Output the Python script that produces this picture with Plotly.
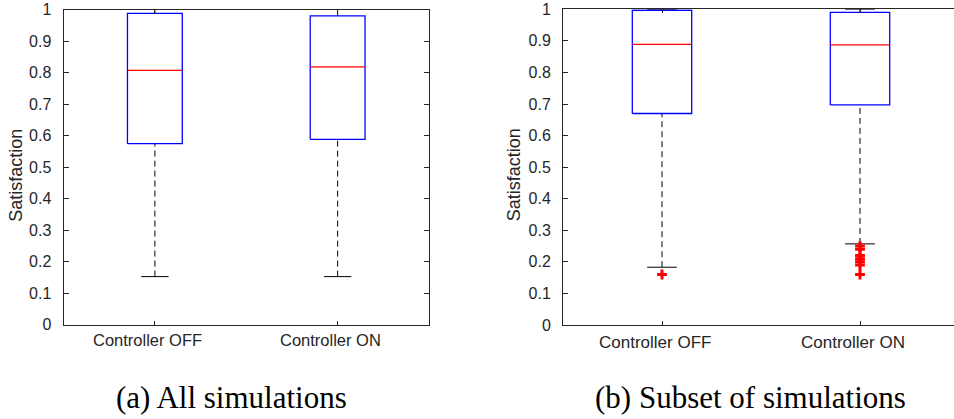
import plotly.graph_objects as go

# ---- data -------------------------------------------------------------
categories = ["Controller OFF", "Controller ON"]
y_tick_values = [0, 0.1, 0.2, 0.3, 0.4, 0.5, 0.6, 0.7, 0.8, 0.9, 1]
y_tick_labels = ["0", "0.1", "0.2", "0.3", "0.4", "0.5", "0.6", "0.7", "0.8", "0.9", "1"]

# (a) all simulations: box statistics per category
all_lower = [0.152, 0.152]
all_q1 = [0.574, 0.588]
all_median = [0.807, 0.818]
all_q3 = [0.988, 0.980]
all_upper = [1.0, 1.0]
all_outliers = [[], []]

# (b) subset of simulations
sub_lower = [0.183, 0.257]
sub_q1 = [0.670, 0.697]
sub_median = [0.889, 0.887]
sub_q3 = [0.997, 0.990]
sub_upper = [1.0, 1.0]
sub_outliers = [[0.16], [0.25, 0.24, 0.22, 0.21, 0.20, 0.19, 0.16]]

captions = ["(a) All simulations", "(b) Subset of simulations"]

# ---- style ------------------------------------------------------------
W, H = 954, 419
AX = "#262626"
BOX_W = 0.30
CAP_W = 0.15
SANS = "Liberation Sans, Arial, Helvetica, sans-serif"
SERIF = "Liberation Serif, Times New Roman, serif"

fig = go.Figure()


def add_boxplot(xa, ya, lower, q1, med, q3, upper, outliers):
    for i, _ in enumerate(categories):
        p = i + 1
        # dashed whiskers
        for a, b in ((lower[i], q1[i]), (q3[i], upper[i])):
            fig.add_trace(go.Scatter(
                x=[p, p], y=[a, b], mode="lines", xaxis=xa, yaxis=ya,
                line=dict(color="black", width=1, dash="6px,4px"),
                hoverinfo="skip", showlegend=False))
        # whisker caps
        for v in (lower[i], upper[i]):
            fig.add_trace(go.Scatter(
                x=[p - CAP_W / 2, p + CAP_W / 2], y=[v, v], mode="lines",
                xaxis=xa, yaxis=ya, line=dict(color="black", width=1),
                hoverinfo="skip", showlegend=False))
        # box
        fig.add_trace(go.Scatter(
            x=[p - BOX_W / 2, p + BOX_W / 2, p + BOX_W / 2, p - BOX_W / 2, p - BOX_W / 2],
            y=[q1[i], q1[i], q3[i], q3[i], q1[i]], mode="lines",
            xaxis=xa, yaxis=ya, line=dict(color="#0000ff", width=1.3),
            hoverinfo="skip", showlegend=False))
        # median
        fig.add_trace(go.Scatter(
            x=[p - BOX_W / 2, p + BOX_W / 2], y=[med[i], med[i]], mode="lines",
            xaxis=xa, yaxis=ya, line=dict(color="#ff0000", width=1.3),
            hoverinfo="skip", showlegend=False))
        # outliers
        if outliers[i]:
            fig.add_trace(go.Scatter(
                x=[p] * len(outliers[i]), y=outliers[i], mode="markers",
                xaxis=xa, yaxis=ya, cliponaxis=False,
                marker=dict(symbol="cross-thin", size=7, color="#ff0000",
                            line=dict(color="#ff0000", width=3)),
                hoverinfo="skip", showlegend=False))


add_boxplot("x", "y", all_lower, all_q1, all_median, all_q3, all_upper, all_outliers)
add_boxplot("x2", "y2", sub_lower, sub_q1, sub_median, sub_q3, sub_upper, sub_outliers)


def xaxis(domain, rng):
    return dict(domain=domain, range=rng, tickmode="array", tickvals=[1, 2],
                showticklabels=False, ticks="inside", ticklen=4, tickcolor=AX,
                showline=True, linecolor=AX, linewidth=1, mirror="ticks",
                showgrid=False, zeroline=False, fixedrange=True, automargin=False)


def yaxis(domain, anchor, mirror):
    return dict(domain=domain, range=[0, 1], anchor=anchor, tickmode="array",
                tickvals=y_tick_values, ticktext=y_tick_labels, ticks="inside",
                ticklen=5, tickcolor=AX, showline=True, linecolor=AX, linewidth=1,
                mirror=mirror, showgrid=False, zeroline=False, fixedrange=True,
                automargin=False,
                tickfont=dict(family=SANS, size=16, color=AX),
                ticklabelstandoff=8)


# panel b runs past the right edge of the page; its range is cut to match
left_dom = [63.5 / W, 429 / W]
right_dom = [563 / W, 1.0]
right_span = (W - 563) / 198.0

fig.update_layout(
    template="none",
    width=W, height=H,
    margin=dict(l=0, r=0, t=0, b=0, pad=0, autoexpand=False),
    paper_bgcolor="white", plot_bgcolor="white",
    xaxis=xaxis(left_dom, [0.5, 2.5]),
    yaxis=yaxis([1 - 324.5 / H, 1 - 9.5 / H], "x", "ticks"),
    xaxis2=dict(xaxis(right_dom, [0.5, 0.5 + right_span]), anchor="y2"),
    yaxis2=yaxis([1 - 325 / H, 1 - 9.3 / H], "x2", False),
    showlegend=False,
)

annotations = []
# category labels under each panel, set slightly left of their tick as in MATLAB output
for xref, yc, size in (("x", 340, 16.5), ("x2", 342, 17)):
    for i, name in enumerate(categories):
        annotations.append(dict(
            text=name, xref=xref, yref="paper", x=i + 1, y=1 - yc / H,
            xanchor="center", yanchor="middle", xshift=-7, showarrow=False,
            font=dict(family=SANS, size=size, color=AX)))
for xc in (15.7, 514.3):
    annotations.append(dict(
        text="Satisfaction", xref="paper", yref="paper", x=xc / W, y=1 - 175 / H,
        xanchor="center", yanchor="middle", textangle=-90, showarrow=False,
        font=dict(family=SANS, size=18, color=AX)))
for text, xc in zip(captions, (231, 750)):
    annotations.append(dict(
        text=text, xref="paper", yref="paper", x=xc / W, y=1 - 397 / H,
        xanchor="center", yanchor="middle", showarrow=False,
        font=dict(family=SERIF, size=31, color="black")))
fig.update_layout(annotations=annotations)

fig.write_html("out.html", config=dict(displayModeBar=False))
